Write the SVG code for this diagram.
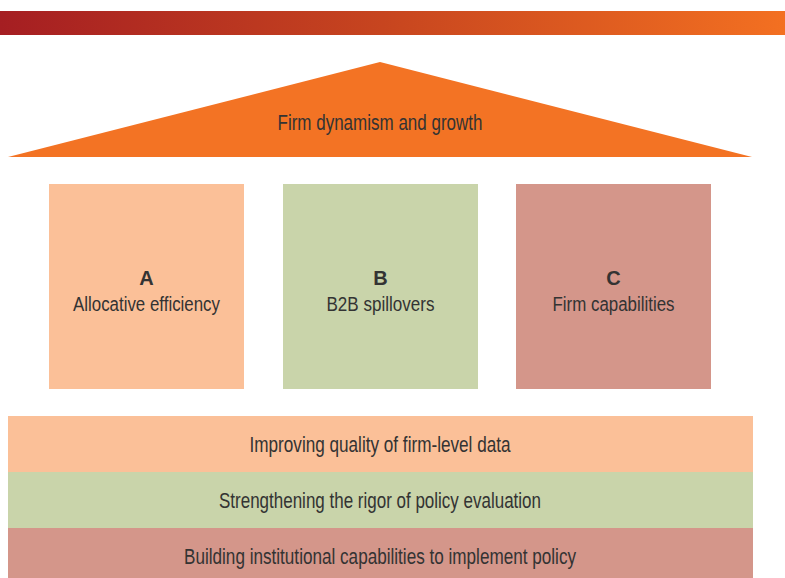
<svg xmlns="http://www.w3.org/2000/svg" width="785" height="578" viewBox="0 0 785 578">
  <defs>
    <linearGradient id="topGrad" x1="0" y1="0" x2="1" y2="0">
      <stop offset="0" stop-color="#a51e22"/>
      <stop offset="0.5" stop-color="#c8461f"/>
      <stop offset="1" stop-color="#f37021"/>
    </linearGradient>
  </defs>
  <style>
    .t { font-family: "Liberation Sans", Arial, sans-serif; fill: #333333; text-anchor: middle; }
    .big { font-size: 22px; }
    .mid { font-size: 20px; }
    .bold { font-weight: bold; }
    .peach { fill: #fbc098; }
    .green { fill: #c9d4aa; }
    .rose { fill: #d4968a; }
  </style>
  <rect width="785" height="578" fill="#ffffff"/>
  <g id="topbar">
    <rect x="0" y="11" width="785" height="24" fill="url(#topGrad)"/>
  </g>
  <g id="roof">
    <polygon points="8,157 380,62 752,157" fill="#f37324"/>
    <text class="t big" x="380" y="129.5" textLength="205" lengthAdjust="spacingAndGlyphs">Firm dynamism and growth</text>
  </g>
  <g id="pillarA">
    <rect class="peach" x="49" y="184" width="195" height="205"/>
    <text class="t mid bold" x="146.5" y="285">A</text>
    <text class="t mid" x="146.5" y="311" textLength="147" lengthAdjust="spacingAndGlyphs">Allocative efficiency</text>
  </g>
  <g id="pillarB">
    <rect class="green" x="283" y="184" width="195" height="205"/>
    <text class="t mid bold" x="380.5" y="285">B</text>
    <text class="t mid" x="380.5" y="311" textLength="108" lengthAdjust="spacingAndGlyphs">B2B spillovers</text>
  </g>
  <g id="pillarC">
    <rect class="rose" x="516" y="184" width="195" height="205"/>
    <text class="t mid bold" x="613.5" y="285">C</text>
    <text class="t mid" x="613.5" y="311" textLength="122" lengthAdjust="spacingAndGlyphs">Firm capabilities</text>
  </g>
  <g id="base1">
    <rect class="peach" x="8" y="416" width="745" height="56"/>
    <text class="t big" x="380" y="452" textLength="261" lengthAdjust="spacingAndGlyphs">Improving quality of firm-level data</text>
  </g>
  <g id="base2">
    <rect class="green" x="8" y="472" width="745" height="56"/>
    <text class="t big" x="380" y="507.5" textLength="322" lengthAdjust="spacingAndGlyphs">Strengthening the rigor of policy evaluation</text>
  </g>
  <g id="base3">
    <rect class="rose" x="8" y="528" width="745" height="50"/>
    <text class="t big" x="380" y="563.5" textLength="392" lengthAdjust="spacingAndGlyphs">Building institutional capabilities to implement policy</text>
  </g>
</svg>
